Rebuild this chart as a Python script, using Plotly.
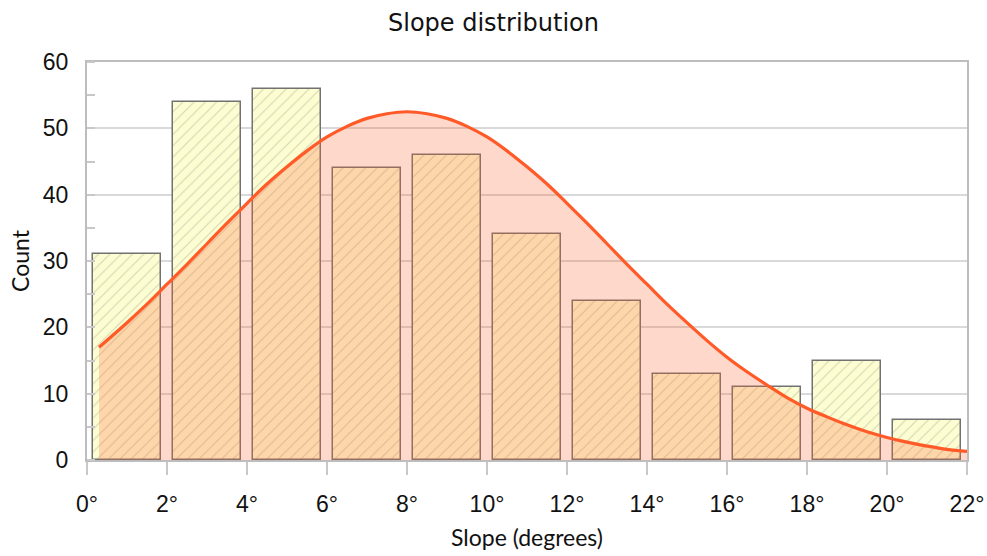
import plotly.graph_objects as go

# Histogram data
bin_centers = [1, 3, 5, 7, 9, 11, 13, 15, 17, 19, 21]
counts = [31, 54, 56, 44, 46, 34, 24, 13, 11, 15, 6]

# Fitted curve values
curve_x = [0.3, 1, 1.5, 2, 2.5, 3, 3.5, 4, 4.5, 5, 5.5, 6, 6.5, 7, 7.5, 8,
           8.5, 9, 9.5, 10, 10.5, 11, 11.5, 12, 12.5, 13, 13.5, 14, 14.5, 15,
           15.5, 16, 16.5, 17, 17.5, 18, 18.5, 19, 19.5, 20, 20.5, 21, 21.5, 22]
curve_y = [17.0, 20.7, 23.5, 26.5, 29.5, 32.6, 35.7, 38.7, 41.6, 44.2, 46.6, 48.7, 50.3, 51.5, 52.2, 52.5,
           52.2, 51.5, 50.3, 48.7, 46.6, 44.2, 41.6, 38.7, 35.7, 32.6, 29.5, 26.5, 23.5, 20.7,
           18.0, 15.5, 13.3, 11.3, 9.4, 7.8, 6.5, 5.3, 4.25, 3.4, 2.7, 2.1, 1.6, 1.3]

x_ticks = [0, 2, 4, 6, 8, 10, 12, 14, 16, 18, 20, 22]
x_tick_labels = ["0°", "2°", "4°", "6°", "8°", "10°", "12°", "14°", "16°", "18°", "20°", "22°"]
y_ticks = [0, 10, 20, 30, 40, 50, 60]

fig = go.Figure()

fig.add_trace(go.Bar(
    x=bin_centers, y=counts, width=1.72,
    marker=dict(
        color="#fdfdd2",
        line=dict(color="#727272", width=1.5),
        pattern=dict(shape="/", fgcolor="#a8a890", bgcolor="#fdfdd2", size=8, solidity=0.12),
    ),
    showlegend=False,
))

fig.add_trace(go.Scatter(
    x=curve_x, y=curve_y, mode="lines",
    line=dict(color="#ff5a28", width=3.2, shape="spline"),
    fill="tozeroy", fillcolor="rgba(255,100,50,0.25)",
    showlegend=False,
))

tick_font = dict(family="'Liberation Sans', Arial, sans-serif", size=23, color="#111")
title_font = dict(family="Lato, 'Open Sans', sans-serif", size=23, color="#111")

fig.update_layout(
    width=987, height=556,
    margin=dict(l=87, r=20, t=62, b=96, autoexpand=False),
    paper_bgcolor="white", plot_bgcolor="white",
    title=dict(text="Slope distribution", x=0.5, xanchor="center", y=0.96, yanchor="middle",
               font=dict(family="'DejaVu Sans', sans-serif", size=24, color="#111")),
    bargap=0,
)

fig.update_xaxes(
    range=[0, 22], tickvals=x_ticks, ticktext=x_tick_labels,
    showgrid=False, showline=True, linecolor="#bdbdbd", linewidth=2, mirror=True,
    ticks="outside", ticklen=13, tickcolor="#c8c8c8", tickwidth=1.5,
    ticklabelstandoff=9, automargin=False,
    tickfont=tick_font,
    title=dict(text="Slope (degrees)", font=title_font, standoff=14),
    zeroline=False,
)

fig.update_yaxes(
    range=[0, 60], tickvals=y_ticks,
    showgrid=True, gridcolor="#d9d9d9", gridwidth=1.5,
    showline=True, linecolor="#bdbdbd", linewidth=2, mirror=True,
    ticks="", minor=dict(ticks="inside", ticklen=8, tickcolor="#c8c8c8", dtick=5, tickwidth=1.5, showgrid=False),
    ticklabelstandoff=12, automargin=False,
    tickfont=tick_font,
    title=dict(text="Count", font=title_font, standoff=7),
    zeroline=False,
)

fig.write_html("out.html")
